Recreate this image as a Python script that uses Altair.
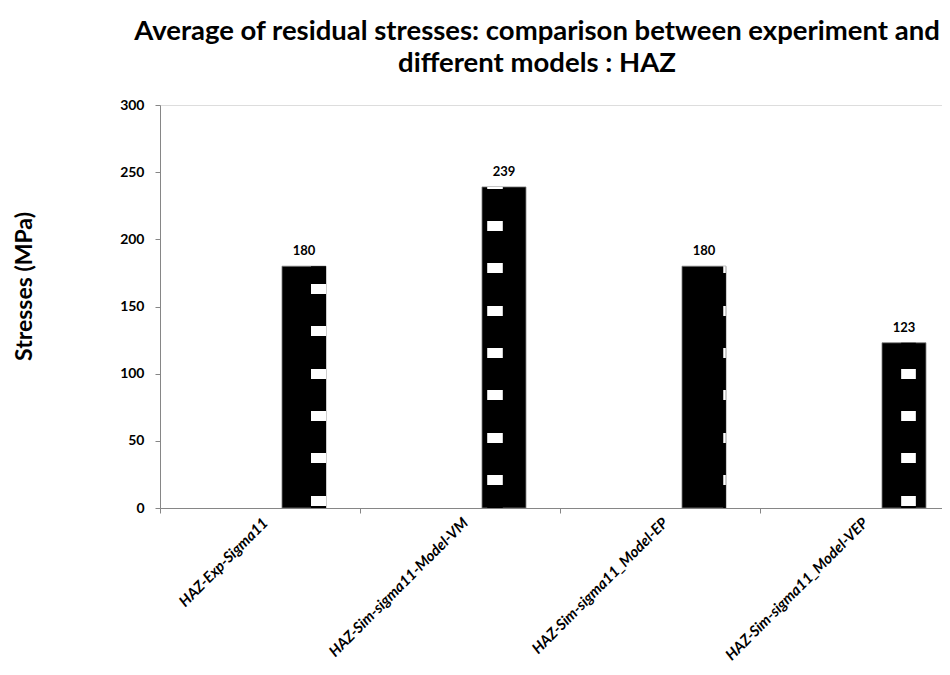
import altair as alt
import pandas as pd

# ---- data ----
categories = [
    "HAZ-Exp-Sigma11",
    "HAZ-Sim-sigma11-Model-VM",
    "HAZ-Sim-sigma11_Model-EP",
    "HAZ-Sim-sigma11_Model-VEP",
]
values = [180, 239, 180, 123]
series_slots = ["Series1", "Series2", "Series3"]  # clustered slots; only the third holds data
bar_series = "Series3"
y_ticks = [0, 50, 100, 150, 200, 250, 300]

title_lines = [
    "Average of residual stresses: comparison between experiment and",
    "different models : HAZ",
]
y_title = "Stresses (MPa)"

# ---- pattern style (white dashes inside the black bars) ----
pattern_period = 31.5   # in value units
pattern_dash = 7.5
pattern_phase = [9.2, 24.6, 24.6, 9.2]
slot_shift = 44.0       # px from category centre to the centre of the third slot
dash_dx = [14.5, -9.0, 20.5, 4.5]
dash_w = [15.0, 15.6, 2.5, 14.7]

df = pd.DataFrame({
    "category": categories,
    "value": values,
    "series": [bar_series] * len(categories),
})

FONT = "Lato"
GREY = "#868686"

x_scale = alt.Scale(domain=categories, paddingInner=0, paddingOuter=0, range=[0, 800])

x_enc = alt.X(
    "category:N",
    sort=categories,
    # the category axis runs past the right edge of the picture, as in the original
    scale=x_scale,
    axis=alt.Axis(
        title=None,
        labelAngle=315,
        labelAlign="right",
        labelBaseline="top",
        tickBand="extent",
        tickSize=5,
        labelPadding=2,
        labelFont=FONT,
        labelFontSize=15,
        labelFontWeight="bold",
        labelFontStyle="italic",
        labelColor="black",
        labelLimit=400,
        domainColor=GREY,
        tickColor=GREY,
    ),
)
xo_enc = alt.XOffset(
    "series:N",
    scale=alt.Scale(domain=series_slots, paddingInner=0, paddingOuter=0.773),
)
y_enc = alt.Y(
    "value:Q",
    scale=alt.Scale(domain=[0, 300]),
    axis=alt.Axis(
        values=y_ticks,
        grid=False,
        title=y_title,
        titleFont=FONT,
        titleFontSize=23,
        titleFontWeight="bold",
        titleColor="black",
        titleX=-129,
        titleY=181,
        titleAlign="center",
        titleBaseline="alphabetic",
        labelFont=FONT,
        labelFontSize=14,
        labelFontWeight="bold",
        labelColor="black",
        labelPadding=11,
        tickSize=5,
        domainColor=GREY,
        tickColor=GREY,
    ),
)

bars = alt.Chart(df).mark_bar(color="black", stroke="#7f7f7f", strokeWidth=0.8).encode(
    x=x_enc, xOffset=xo_enc, y=y_enc
)


def stripe_gradient(v, phase):
    dashes = []
    top = phase
    while top - pattern_dash < v:
        lo = max(top - pattern_dash, 0.0)
        hi = min(top, v)
        if hi > lo:
            dashes.append((lo, hi))
        top += pattern_period
    stops = [alt.GradientStop(color="black", offset=0)]
    for lo, hi in sorted(dashes, key=lambda d: -d[1]):
        f1 = round((v - hi) / v, 5)
        f2 = round((v - lo) / v, 5)
        stops += [
            alt.GradientStop(color="black", offset=f1),
            alt.GradientStop(color="white", offset=f1),
            alt.GradientStop(color="white", offset=f2),
            alt.GradientStop(color="black", offset=f2),
        ]
    stops.append(alt.GradientStop(color="black", offset=1))
    return alt.LinearGradient(gradient="linear", stops=stops, x1=0, x2=0, y1=0, y2=1)


stripe_layers = []
for i, cat in enumerate(categories):
    stripe_layers.append(
        alt.Chart(df)
        .transform_filter(alt.datum.category == cat)
        .mark_bar(
            fill=stripe_gradient(values[i], pattern_phase[i]),
            width=dash_w[i],
            xOffset=slot_shift + dash_dx[i],
        )
        .encode(x=x_enc, y=y_enc)
    )

labels = alt.Chart(df).mark_text(
    font=FONT, fontSize=13, fontWeight="bold", color="black", dy=-11, baseline="alphabetic"
).encode(x=x_enc, xOffset=xo_enc, y=y_enc, text=alt.Text("value:Q"))

chart = (
    alt.layer(bars, *stripe_layers, labels)
    .properties(
        width=782,
        height=403,
        padding={"left": 152, "top": 97, "right": 0, "bottom": 158},
        autosize=alt.AutoSizeParams(type="none"),
        title=alt.TitleParams(
            text=title_lines,
            font=FONT,
            fontSize=27.5,
            fontWeight="bold",
            color="black",
            anchor="middle",
            dx=-14,
            offset=21,
            lineHeight=32,
        ),
    )
    .configure_view(stroke=None)
    .configure(background="white")
)

chart.save("out.html", embed_options={"renderer": "svg", "actions": False})
